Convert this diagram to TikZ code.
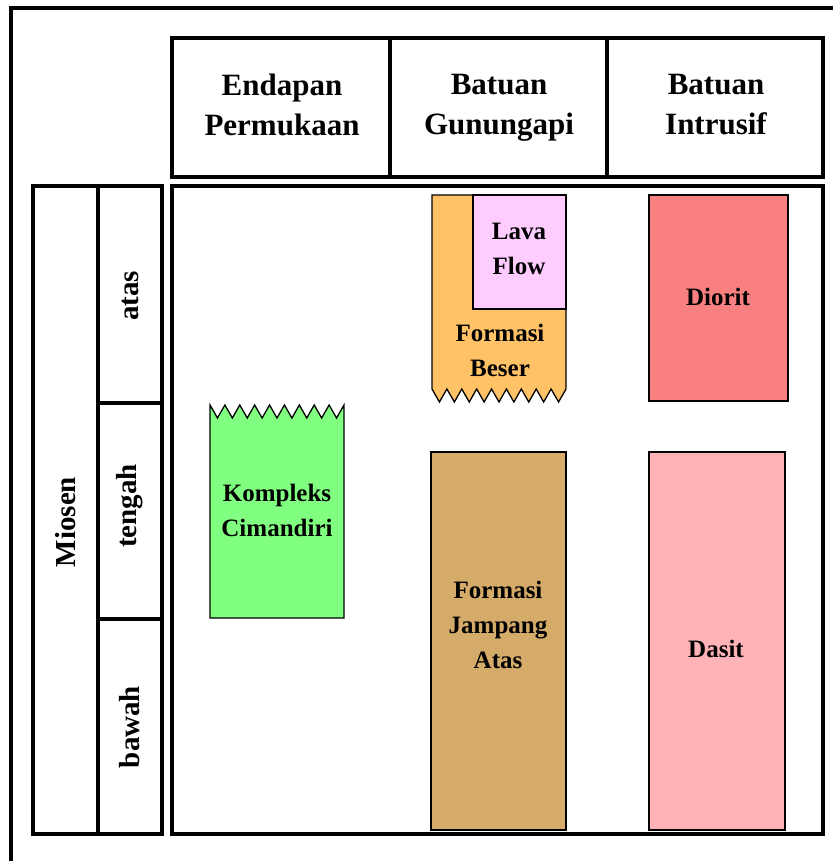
\documentclass[tikz,border=0pt]{standalone}
\usepackage{fontspec}
\setmainfont{Liberation Serif}
\definecolor{beser}{HTML}{FFC266}
\definecolor{lava}{HTML}{FFCCFF}
\definecolor{diorit}{HTML}{F98080}
\definecolor{kompleks}{HTML}{80FF80}
\definecolor{jampang}{HTML}{D5AB6A}
\definecolor{dasit}{HTML}{FFB3B6}
\begin{document}
\begin{tikzpicture}[x=1pt,y=-1pt,
  frame/.style={draw, line width=3.5pt, inner sep=0pt},
  unit/.style={draw, line width=1.3pt, inner sep=0pt},
  hdr/.style={font=\bfseries\fontsize{31}{40}\selectfont, align=center, anchor=north, inner sep=0pt},
  lbl/.style={font=\bfseries\fontsize{25}{35}\selectfont, align=center},
  side/.style={font=\bfseries\fontsize{29}{34}\selectfont, rotate=90},
]
\useasboundingbox (0,0) rectangle (832,861);
\fill[white] (0,0) rectangle (832,861);
% outer frame (clipped by the page)
\draw[line width=4pt] (11,880) -- (11,8) -- (850,8);

% header
\node[frame, minimum width=218pt, minimum height=139pt] (h1) at (281,107.5) {};
\node[frame, minimum width=217pt, minimum height=139pt] (h2) at (498.5,107.5) {};
\node[frame, minimum width=216pt, minimum height=139pt] (h3) at (715,107.5) {};
\node[hdr] (t1) at (282,74) {Endapan\\Permukaan};
\node[hdr] (t2) at (499,74) {Batuan\\Gunungapi};
\node[hdr] (t3) at (716,74) {Batuan\\Intrusif};

% main box
\node[frame, minimum width=651pt, minimum height=648pt] (main) at (497.5,510) {};

% left column
\node[frame, minimum width=65pt, minimum height=648pt] (miosen) at (65.5,510) {};
\node[frame, minimum width=64pt, minimum height=217pt] (atas) at (130,294.5) {};
\node[frame, minimum width=64pt, minimum height=216pt] (tengah) at (130,511) {};
\node[frame, minimum width=64pt, minimum height=215pt] (bawah) at (130,726.5) {};
\node[side] (lmiosen) at (65.5,522) {Miosen};
\node[side] (latas) at (130,296) {atas};
\node[side] (ltengah) at (130,506) {tengah};
\node[side] (lbawah) at (130,727) {bawah};

% Formasi Beser (zigzag bottom)
\draw[unit, fill=beser] (432,195) -- (566,195) -- (566,389)
  \foreach \i in {1,...,9} { -- ({566-(\i-0.5)*134/9},402) -- ({566-\i*134/9},389) } -- cycle;
\node[unit, fill=lava, minimum width=93pt, minimum height=114pt] (lava) at (519.5,252) {};
\node[lbl] (tlava) at (519,249) {Lava\\Flow};
\node[lbl] (tbeser) at (500,350) {Formasi\\Beser};

% Diorit
\node[unit, fill=diorit, minimum width=139pt, minimum height=206pt] (diorit) at (718.5,298) {};
\node[lbl] (tdiorit) at (718,297) {Diorit};

% Kompleks Cimandiri (zigzag top)
\draw[unit, fill=kompleks] (210,618) -- (210,405)
  \foreach \i in {1,...,9} { -- ({210+(\i-0.5)*134/9},418) -- ({210+\i*134/9},405) } -- (344,618) -- cycle;
\node[lbl] (tkompleks) at (277,510) {Kompleks\\Cimandiri};

% Formasi Jampang Atas
\node[unit, fill=jampang, minimum width=135pt, minimum height=378pt] (jampang) at (498.5,641) {};
\node[lbl] (tjampang) at (498,625) {Formasi\\Jampang\\Atas};

% Dasit
\node[unit, fill=dasit, minimum width=136pt, minimum height=378pt] (dasit) at (717,641) {};
\node[lbl] (tdasit) at (716,649) {Dasit};
\end{tikzpicture}
\end{document}
